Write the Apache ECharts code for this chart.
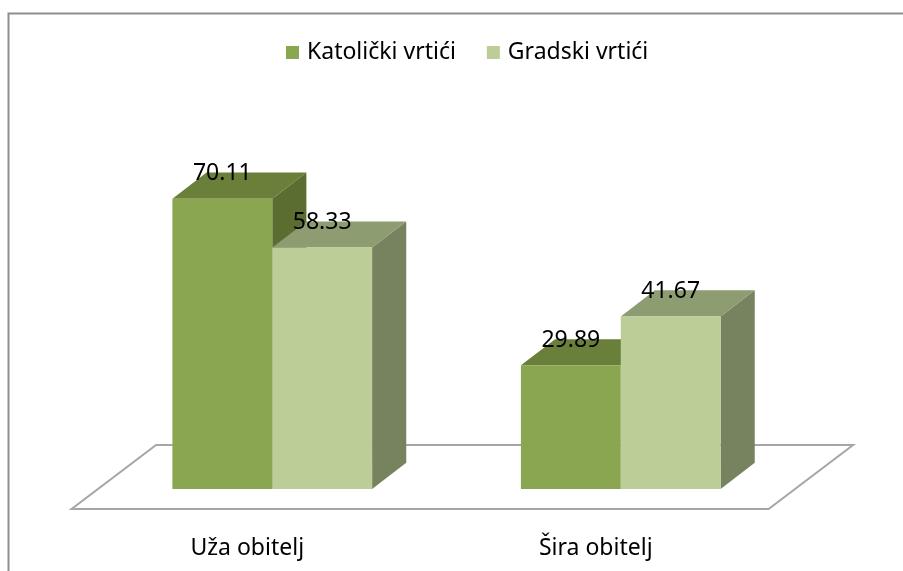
<!DOCTYPE html>
<html>
<head>
<meta charset="utf-8">
<script src="https://cdn.jsdelivr.net/npm/echarts@6/dist/echarts.min.js"></script>
<style>html,body{margin:0;padding:0;background:#fff}#c{width:903px;height:571px}</style>
</head>
<body>
<div id="c"></div>
<script>
const categories = ['Uža obitelj', 'Šira obitelj'];
const seriesNames = ['Katolički vrtići', 'Gradski vrtići'];
const katolicki = [70.11, 29.89];
const gradski = [58.33, 41.67];

const FONT = '"Noto Sans", sans-serif';
const colors = [
  {front: '#8aa650', top: '#6a7f3a', side: '#5b6d31'},
  {front: '#bccd97', top: '#8e9c72', side: '#76835e'}
];

function barRender(si) {
  return function (params, api) {
    const cat = api.value(0), val = api.value(1);
    const top = api.coord([cat, val]);
    const base = api.coord([cat, 0]);
    const band = api.size([1, 0])[0];
    const bw = band * 0.2865;
    const dx = band * 0.098, dy = -dx * 0.765;
    const x0 = top[0] + (si === 0 ? -bw : 0);
    const x1 = x0 + bw;
    const yT = top[1], yB = base[1];
    const c = colors[si];
    return {
      type: 'group',
      children: [
        {type: 'polygon', shape: {points: [[x1, yT], [x1 + dx, yT + dy], [x1 + dx, yB + dy], [x1, yB]]}, style: {fill: c.side}},
        {type: 'polygon', shape: {points: [[x0, yT], [x1, yT], [x1 + dx, yT + dy], [x0 + dx, yT + dy]]}, style: {fill: c.top}},
        {type: 'rect', shape: {x: x0, y: yT, width: bw, height: yB - yT}, style: {fill: c.front}},
        {type: 'text', z2: 10, style: {text: val.toFixed(2), x: (x0 + x1) / 2, y: yT - 25, align: 'center', verticalAlign: 'middle', fill: '#000', font: '23px ' + FONT}}
      ]
    };
  };
}

function floorRender(params, api) {
  const cs = params.coordSys;
  const yZ = cs.y + cs.height;
  const k = 1.32;
  const yF = yZ + 20, yBk = yZ - 44;
  const xl = cs.x, xr = cs.x + cs.width;
  return {
    type: 'polygon',
    shape: {points: [[xl - 20 * k, yF], [xr - 20 * k, yF], [xr + 44 * k, yBk], [xl + 44 * k, yBk]]},
    style: {fill: '#fff', stroke: '#a6a6a6', lineWidth: 2}
  };
}

const chart = echarts.init(document.getElementById('c'));
chart.setOption({
  animation: false,
  backgroundColor: '#fff',
  graphic: [{type: 'rect', shape: {x: 8.5, y: 13.5, width: 1000, height: 1000}, style: {fill: 'none', stroke: '#8e8e8e', lineWidth: 2}, z: 100}],
  legend: {
    data: seriesNames,
    left: 286, top: 41, padding: 0,
    itemWidth: 13, itemHeight: 13, itemGap: 31,
    icon: 'rect',
    textStyle: {fontFamily: FONT, fontSize: 23, color: '#000', padding: [0, 0, 0, 3]}
  },
  grid: {left: 98, right: 108, top: 75, bottom: 82},
  xAxis: {
    type: 'category', data: categories,
    axisLine: {show: false}, axisTick: {show: false}, splitLine: {show: false},
    axisLabel: {margin: 48, padding: [0, 50, 0, 0], fontFamily: FONT, fontSize: 23, color: '#000'}
  },
  yAxis: {type: 'value', min: 0, max: 100, show: false, splitLine: {show: false}},
  series: [
    {type: 'custom', name: 'floor', z: 1, renderItem: floorRender, data: [[0, 0]], silent: true, encode: {x: 0, y: 1}},
    {type: 'custom', name: seriesNames[0], z: 2, renderItem: barRender(0), itemStyle: {color: colors[0].front}, data: katolicki.map((v, i) => [i, v]), encode: {x: 0, y: 1}},
    {type: 'custom', name: seriesNames[1], z: 2, renderItem: barRender(1), itemStyle: {color: colors[1].front}, data: gradski.map((v, i) => [i, v]), encode: {x: 0, y: 1}}
  ]
});
</script>
</body>
</html>
